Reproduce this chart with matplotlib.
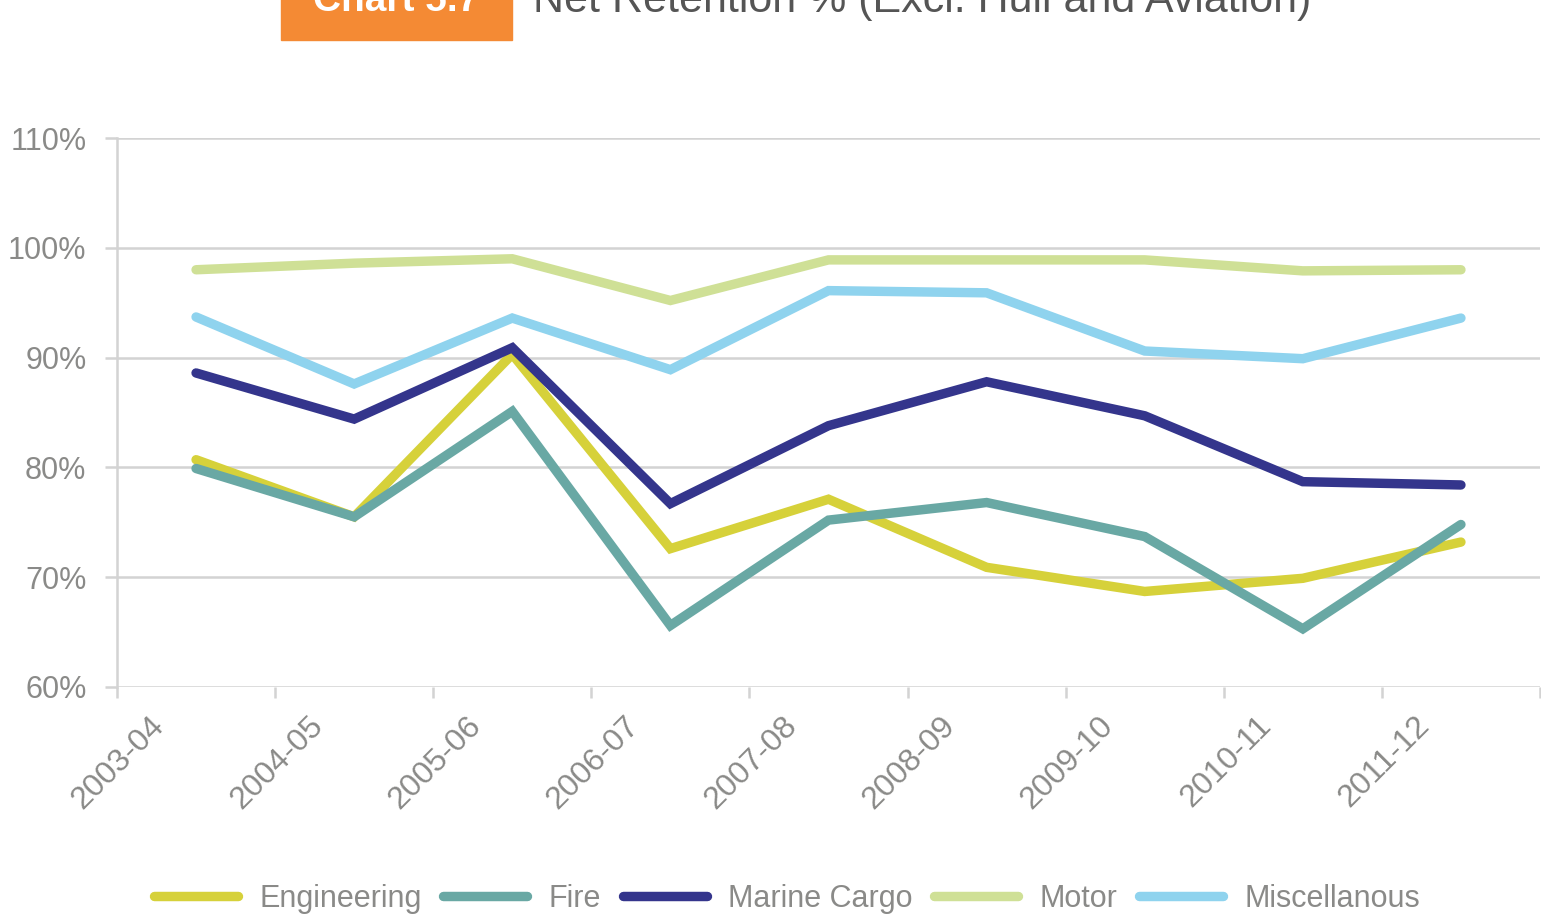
import matplotlib
matplotlib.use("Agg")
import matplotlib.pyplot as plt
from matplotlib.patches import Rectangle
import numpy as np

# Financial years
years = ["2003-04", "2004-05", "2005-06", "2006-07", "2007-08",
         "2008-09", "2009-10", "2010-11", "2011-12"]

# Net retention (%) by line of business
engineering = [80.7, 75.5, 90.3, 72.6, 77.1, 70.9, 68.7, 69.9, 73.2]
fire = [79.9, 75.5, 85.1, 65.6, 75.2, 76.8, 73.7, 65.3, 74.8]
marine_cargo = [88.6, 84.4, 90.9, 76.7, 83.8, 87.8, 84.7, 78.7, 78.4]
motor = [98.0, 98.6, 99.0, 95.2, 98.9, 98.9, 98.9, 97.9, 98.0]
miscellanous = [93.7, 87.6, 93.6, 88.9, 96.1, 95.9, 90.6, 89.9, 93.6]

series = [
    ("Engineering", engineering, "#d6d13a"),
    ("Fire", fire, "#69a8a4"),
    ("Marine Cargo", marine_cargo, "#34358c"),
    ("Motor", motor, "#cfe096"),
    ("Miscellanous", miscellanous, "#8fd3ee"),
]

y_ticks = [60, 70, 80, 90, 100, 110]

FONT = ["Liberation Sans", "DejaVu Sans"]
GREY_TEXT = "#8a8a88"
GRID = "#d3d3d3"

W, H = 1541, 919
fig = plt.figure(figsize=(W / 100, H / 100), dpi=100)
ax = fig.add_axes([117 / W, 1 - 687 / H, (1540 - 117) / W, (687 - 138) / H])

x = np.arange(len(years))
for name, vals, color in series:
    ax.plot(x, vals, color=color, lw=6.8, label=name,
            solid_capstyle="round", solid_joinstyle="miter", zorder=3)

ax.set_xlim(-0.5, len(years) - 0.5)
ax.set_ylim(60, 110)

# horizontal gridlines
ax.set_yticks(y_ticks)
ax.set_yticklabels([f"{v}%" for v in y_ticks], fontfamily=FONT,
                   fontsize=22, color=GREY_TEXT)
ax.yaxis.grid(True, color=GRID, lw=1.8, zorder=0)
ax.tick_params(axis="y", length=9, width=1.8, color=GRID, pad=13)

# category boundary tick marks, labels offset toward each boundary
ax.set_xticks(np.arange(len(years) + 1) - 0.5, minor=True)
ax.tick_params(axis="x", which="minor", length=8, width=1.8, color=GRID)
ax.set_xticks(x - 0.16)
ax.set_xticklabels(years, rotation=45, ha="right", fontfamily=FONT,
                   fontsize=23, color=GREY_TEXT)
ax.tick_params(axis="x", which="major", length=0, pad=17)

for side in ["top", "right", "bottom"]:
    ax.spines[side].set_visible(False)
ax.spines["left"].set_color(GRID)
ax.spines["left"].set_linewidth(1.8)

# legend below the plot
leg = fig.legend(loc="center", bbox_to_anchor=(787 / W, 1 - 899 / H),
                 ncol=5, frameon=False, handlelength=2.75, handletextpad=0.7,
                 columnspacing=0.7, prop={"family": FONT, "size": 22})
for t in leg.get_texts():
    t.set_color(GREY_TEXT)

# heading strip along the top edge
fig.patches.append(Rectangle((281 / W, 1 - 40 / H), (512 - 281) / W, 60 / H,
                             transform=fig.transFigure, color="#f48a34",
                             zorder=1))
fig.text(396 / W, 1 - 11 / H, "Chart 5.7", ha="center", va="baseline",
         color="white", fontsize=28, fontweight="bold",
         fontfamily=FONT, zorder=2)
fig.text(533 / W, 1 - 12 / H, "Net Retention % (Excl. Hull and Aviation)",
         ha="left", va="baseline", color="#555555", fontsize=31,
         fontfamily=FONT, zorder=2)

fig.savefig("out.png", dpi=100)
